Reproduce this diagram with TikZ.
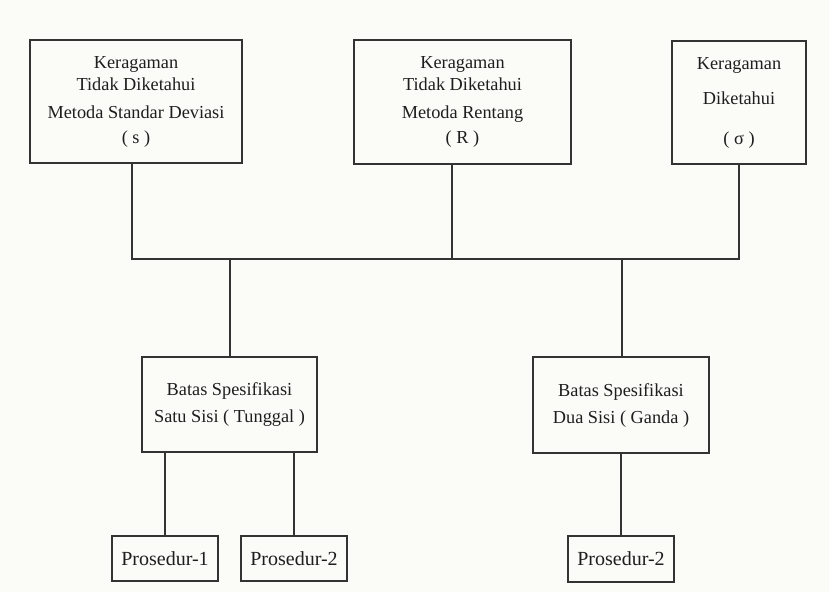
\documentclass[tikz,border=0pt]{standalone}
\usepackage{fontspec}
\setmainfont{Liberation Serif}
\definecolor{ink}{HTML}{333333}
\definecolor{tinta}{HTML}{1E1E1E}
\definecolor{paper}{HTML}{FBFBF7}
\tikzset{
  kotak/.style={draw=ink, line width=1.1pt, rectangle, inner sep=0pt, align=center,
    font=\fontsize{18.3}{22}\selectfont, text=tinta},
  garis/.style={draw=ink, line width=1.1pt}
}
\begin{document}
\begin{tikzpicture}[x=1pt,y=-1pt]
		\fill [paper] (0,0) rectangle (829,592);
		\useasboundingbox (0,0) rectangle (829,592);
		% keragaman
		\node [kotak, minimum width=212pt, minimum height=123pt] (ragamS) at (136,101.5) {Keragaman\\Tidak Diketahui\\[6pt]Metoda Standar Deviasi\\[3pt]( s )};
		\node [kotak, minimum width=217pt, minimum height=124pt] (ragamR) at (462.5,102) {Keragaman\\Tidak Diketahui\\[6pt]Metoda Rentang\\[3pt]( R )};
		\node [kotak, minimum width=134pt, minimum height=123pt] (ragamSig) at (739,102.5) {Keragaman\\[13pt]Diketahui\\[18pt]( σ )};
		% batas spesifikasi
		\node [kotak, minimum width=175pt, minimum height=95pt] (tunggal) at (229.5,404.5) {Batas Spesifikasi\\[5pt]Satu Sisi ( Tunggal )};
		\node [kotak, minimum width=176pt, minimum height=96pt] (ganda) at (621,405) {Batas Spesifikasi\\[5pt]Dua Sisi ( Ganda )};
		% prosedur
		\node [kotak, minimum width=106pt, minimum height=45pt, font=\fontsize{20}{22}\selectfont] (pros1) at (165,558.5) {Prosedur-1};
		\node [kotak, minimum width=106pt, minimum height=45pt, font=\fontsize{20}{22}\selectfont] (pros2) at (294,558.5) {Prosedur-2};
		\node [kotak, minimum width=106pt, minimum height=46pt, font=\fontsize{20}{22}\selectfont] (pros3) at (621,559) {Prosedur-2};
		% garis penghubung
		\coordinate (busL) at (132,259);
		\coordinate (busR) at (739,259);
		\coordinate (turunR) at (452,259);
		\coordinate (turunT) at (230,259);
		\coordinate (turunG) at (622,259);
		\draw [garis] (ragamS.south -| busL) -- (busL) -- (busR) -- (ragamSig.south);
		\draw [garis] (turunR |- ragamR.south) -- (turunR);
		\draw [garis] (turunT) -- (turunT |- tunggal.north);
		\draw [garis] (turunG) -- (turunG |- ganda.north);
		\draw [garis] (pros1.north) -- (pros1.north |- tunggal.south);
		\draw [garis] (pros2.north) -- (pros2.north |- tunggal.south);
		\draw [garis] (pros3.north) -- (ganda.south);
\end{tikzpicture}
\end{document}
